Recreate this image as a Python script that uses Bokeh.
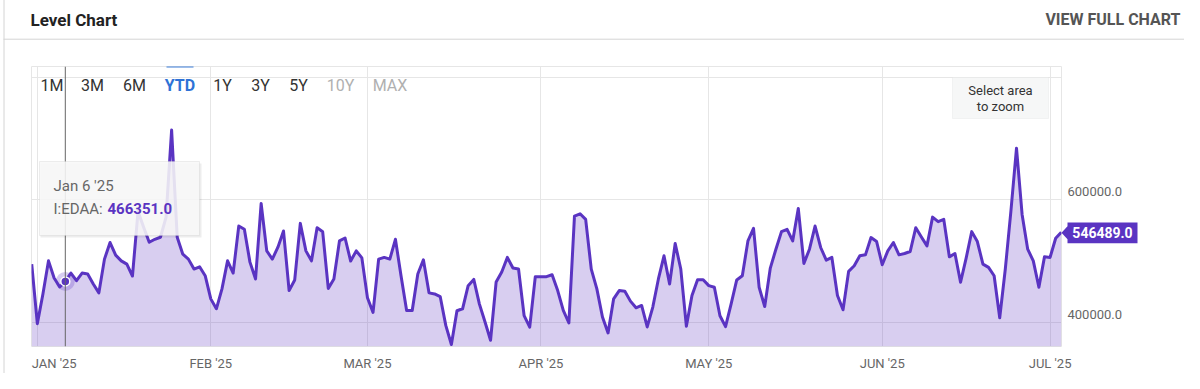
import pandas as pd
from bokeh.plotting import figure
from bokeh.models import (Range1d, FixedTicker, LinearAxis, Label, BoxAnnotation,
                          Span, ColumnDataSource, PrintfTickFormatter)
from bokeh.core.properties import value
from bokeh.embed import file_html
from bokeh.resources import INLINE

# ---------------- data ----------------
first_date = "2024-12-31"
levels = [
    494600, 397300, 445900, 499900, 471900, 457300, 466351, 480000, 467500, 480000,
    478400, 462200, 447600, 502700, 529800, 509200, 499900, 494600, 475100, 580500,
    554600, 530300, 535100, 538400, 570800, 713500, 538400, 510800, 502700, 486500,
    490200, 475600, 437800, 421600, 454100, 499900, 480000, 556700, 551400, 497800,
    470300, 593500, 516200, 502700, 522200, 548600, 451300, 468700, 561100, 516200,
    499900, 554100, 547300, 454900, 470300, 532400, 537200, 499500, 516200, 504800,
    439500, 415600, 502700, 505500, 502700, 535100, 475600, 418900, 418900, 478400,
    501600, 447600, 445900, 441600, 394500, 363200, 418400, 421600, 459400, 469500,
    429700, 400500, 370200, 465400, 481600, 505500, 488100, 486500, 410300, 391600,
    474000, 474000, 474000, 477200, 451300, 418900, 398400, 572900, 576800, 567600,
    486500, 454100, 408200, 382200, 437800, 451300, 450300, 434100, 423200, 427000,
    391900, 424400, 470300, 508100, 462200, 528200, 486500, 392900, 443200, 469100,
    469100, 459400, 456800, 410300, 392400, 429700, 468700, 475600, 532400, 553000,
    456800, 425400, 488100, 518900, 547600, 551400, 532400, 585400, 495700, 518900,
    556700, 521700, 501100, 505500, 443200, 420000, 482800, 491800, 508100, 509700,
    537900, 531400, 493500, 516200, 529800, 509700, 511900, 515200, 554100, 538900,
    524300, 571300, 563800, 567600, 506400, 511900, 464900, 504300, 547600, 531400,
    494600, 489200, 475600, 407000, 486500, 581000, 683800, 575700, 518900, 499900,
    456800, 506400, 505500, 536800, 546489,
]
dates = pd.date_range(first_date, periods=len(levels), freq="D")

month_starts = ["2025-01-01", "2025-02-01", "2025-03-01", "2025-04-01",
                "2025-05-01", "2025-06-01", "2025-07-01"]
x_label_dates = ["2025-01-04", "2025-02-01", "2025-03-01", "2025-04-01",
                 "2025-05-01", "2025-06-01", "2025-07-01"]
x_labels = ["JAN '25", "FEB '25", "MAR '25", "APR '25", "MAY '25", "JUN '25", "JUL '25"]
y_label_ticks = [400000, 600000]
y_grid_ticks = [400000, 600000, 800000]
y_min, y_max = 360000, 817300
range_buttons = ["1M", "3M", "6M", "YTD", "1Y", "3Y", "5Y", "10Y", "MAX"]
active_button = "YTD"
disabled_buttons = ["10Y", "MAX"]
series_name = "I:EDAA"
hover_index = 6
chart_title = "Level Chart"
link_text = "VIEW FULL CHART"

# ---------------- styles / layout ----------------
PURPLE = "#5a34c2"
FONT = "Roboto"
W, H = 1184, 373
FL, FR, FT, FB = 31, 1061, 66, 348     # plot frame in page pixels
LABEL_SHIFT_PX = 8
button_x = [51.5, 92, 134, 179.5, 222, 260, 298, 340, 389.5]


def ms(d):
    return pd.Timestamp(d).value / 1e6


x_ms = [ms(d) for d in dates]
x0, x1 = x_ms[0] - 3600000, x_ms[-1] + 3600000
ms_per_px = (x1 - x0) / (FR - FL)
val_per_px = (y_max - y_min) / (FB - FT)


def dx(X):          # page px -> data x (for chrome drawn outside the frame)
    return x0 + (X - FL) * ms_per_px


def dy(Y):          # page px -> data y
    return y_min + (FB - Y) * val_per_px


def sx(X):
    return X - FL


def sy(Y):
    return FB - Y


src = ColumnDataSource(dict(x=x_ms, y=levels, base=[y_min] * len(levels)))

p = figure(width=W, height=H, output_backend="svg", toolbar_location=None,
           x_axis_type="datetime", y_axis_location=None,
           x_range=Range1d(x0, x1), y_range=Range1d(y_min, y_max),
           min_border_left=FL, min_border_right=W - FR,
           min_border_top=FT, min_border_bottom=H - FB,
           background_fill_color="white", border_fill_color="white",
           outline_line_color="#e6e6e6")

p.xgrid.ticker = FixedTicker(ticks=[ms(d) for d in month_starts])
p.xgrid.grid_line_color = "#e6e6e6"
p.ygrid.ticker = FixedTicker(ticks=y_grid_ticks)
p.ygrid.grid_line_color = "#e6e6e6"

xa = p.xaxis[0]
xa.ticker = FixedTicker(ticks=[ms(d) for d in x_label_dates])
xa.major_label_overrides = {int(ms(d)): t for d, t in zip(x_label_dates, x_labels)}
xa.axis_line_color = None
xa.major_tick_line_color = None
xa.minor_tick_line_color = None
xa.major_tick_out = 0
xa.major_label_standoff = 9
xa.major_label_text_font = FONT
xa.major_label_text_font_size = "13px"
xa.major_label_text_color = "#666666"

p.extra_y_ranges = {"lab": Range1d(y_min - LABEL_SHIFT_PX * val_per_px,
                                   y_max - LABEL_SHIFT_PX * val_per_px)}
ya = LinearAxis(y_range_name="lab", ticker=FixedTicker(ticks=y_label_ticks),
                formatter=PrintfTickFormatter(format="%.1f"),
                axis_line_color=None, major_tick_line_color=None, minor_tick_line_color=None,
                major_tick_out=0, major_label_standoff=6,
                major_label_text_font=FONT, major_label_text_font_size="13px",
                major_label_text_color="#666666")
p.add_layout(ya, "right")

p.varea(x="x", y1="base", y2="y", source=src, fill_color=PURPLE, fill_alpha=0.24)
p.line(x="x", y="y", source=src, line_color=PURPLE, line_width=3, line_join="round")

hx, hy = x_ms[hover_index], levels[hover_index]
p.add_layout(Span(location=hx, dimension="height", line_color="#666666", line_width=1))
hsrc = ColumnDataSource(dict(x=[hx], y=[hy]))
p.scatter(x="x", y="y", source=hsrc, size=19, fill_color=PURPLE, fill_alpha=0.25, line_color=None)
p.scatter(x="x", y="y", source=hsrc, size=9, fill_color=PURPLE, line_color="white", line_width=1.5)


def box(X0, Y0, X1, Y1, fill, alpha=1.0, line=None, lw=1):
    p.add_layout(BoxAnnotation(left=sx(X0), right=sx(X1), top=sy(Y0), bottom=sy(Y1),
                               left_units="screen", right_units="screen",
                               top_units="screen", bottom_units="screen",
                               fill_color=fill, fill_alpha=alpha,
                               line_color=line, line_width=lw, level="overlay"))


def label(text, X, Y, size, color, bold=False, align="left"):
    p.add_layout(Label(x=sx(X), y=sy(Y), x_units="screen", y_units="screen", text=text,
                       text_font=FONT, text_font_size=f"{size}px", text_color=color,
                       text_font_style="bold" if bold else "normal",
                       text_align=align, text_baseline="middle", level="overlay"))


def out_text(text, X, Y, size, color, bold=False, align="left"):
    p.text(x=[dx(X)], y=[dy(Y)], text=[text], text_font=value(FONT),
           text_font_size=value(f"{size}px"), text_font_style="bold" if bold else "normal",
           text_color=color, text_align=align, text_baseline="middle", level="overlay")


def out_line(X0, Y0, X1, Y1, color="#d4d4d4"):
    p.segment(x0=[dx(X0)], y0=[dy(Y0)], x1=[dx(X1)], y1=[dy(Y1)],
              line_color=color, line_width=1, level="overlay")


# card chrome / header
out_line(3.5, -5, 3.5, H + 5)
out_line(3, 38.5, W + 5, 38.5)
out_text(chart_title, 30, 19, 17, "#222222", bold=True)
out_text(link_text, 1180, 19, 16, "#555555", bold=True, align="right")

# range selector
for name, bx in zip(range_buttons, button_x):
    if name == active_button:
        col, bold = "#2f72d6", True
    elif name in disabled_buttons:
        col, bold = "#b0b0b0", False
    else:
        col, bold = "#333333", False
    label(name, bx, 87, 16, col, bold=bold, align="center")
ai = range_buttons.index(active_button)
box(button_x[ai] - 13.5, 66, button_x[ai] + 13.5, 69, "#3b7dd8", 1.0)

# zoom hint
box(952, 79, 1048, 120, "#f6f7f7", 1.0, "#dddddd", 1)
label("Select area", 1000, 92, 13, "#333333", align="center")
label("to zoom", 1000, 107.5, 13, "#333333", align="center")

# tooltip
box(40, 165, 201, 239, "#000000", 0.07)
box(39, 163, 199, 237, "#f8f8f8", 0.88, "#c8c8c8", 1)
hd = dates[hover_index]
label(f"{hd.strftime('%b')} {hd.day} '{hd.strftime('%y')}", 53, 187.5, 15, "#666666")
label(f"{series_name}: ", 53, 210, 15, "#666666")
label(f"{levels[hover_index]:.1f}", 107, 210, 15, PURPLE, bold=True)

# last value tag (outside the frame, overlay level)
ty = 233.5
tag_X = [FR, 1067, 1067, 1137, 1137, 1067, 1067]
tag_Y = [ty, ty - 6.5, ty - 10.5, ty - 10.5, ty + 10.5, ty + 10.5, ty + 6.5]
p.patch(x=[dx(v) for v in tag_X], y=[dy(v) for v in tag_Y], fill_color=PURPLE,
        line_color=None, level="overlay")
out_text(f"{levels[-1]:.1f}", 1102, ty, 14, "white", bold=True, align="center")

open("out.html", "w").write(file_html(p, INLINE))
